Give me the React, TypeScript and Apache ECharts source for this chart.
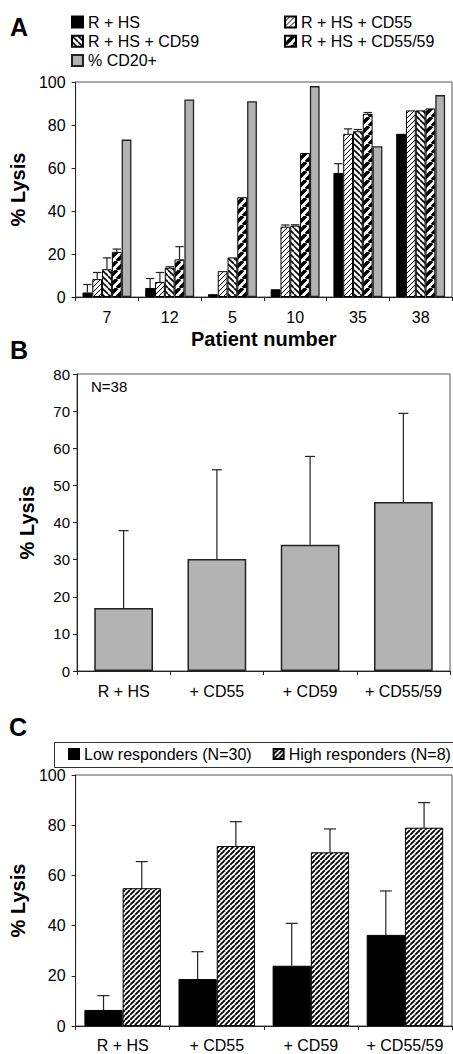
import React, { useEffect, useRef } from "react";
import * as echarts from "echarts";

// ---------- Panel A data ----------
const patientsA = ["7", "12", "5", "10", "35", "38"];
const rhsA = [2.1, 4.2, 1.3, 3.6, 57.7, 75.9];
const rhsErrA = [3.7, 4.4, 0, 0, 4.3, 0];
const cd55A = [8.3, 7.0, 12.0, 32.7, 75.9, 86.8];
const cd55ErrA = [3.1, 4.4, 0, 0.8, 2.3, 0];
const cd59A = [12.9, 13.6, 18.4, 33.2, 77.1, 86.8];
const cd59ErrA = [5.3, 0.5, 0, 0.4, 0.8, 0];
const cd5559A = [21.0, 17.5, 46.4, 67.0, 85.2, 87.7];
const cd5559ErrA = [1.3, 5.9, 0, 0, 0.6, 0];
const cd20A = [73.2, 91.9, 91.1, 98.1, 70.1, 93.9];
const yTicksA = [0, 20, 40, 60, 80, 100];

// ---------- Panel B data ----------
const condB = ["R + HS", "+ CD55", "+ CD59", "+ CD55/59"];
const lysisB = [17.0, 30.2, 34.0, 45.5];
const sdB = [20.8, 24.0, 23.8, 23.9];
const yTicksB = [0, 10, 20, 30, 40, 50, 60, 70, 80];

// ---------- Panel C data ----------
const condC = ["R + HS", "+ CD55", "+ CD59", "+ CD55/59"];
const lowC = [6.4, 18.7, 24.0, 36.3];
const lowErrC = [5.7, 10.9, 16.9, 17.5];
const highC = [54.9, 71.7, 69.2, 79.0];
const highErrC = [10.6, 9.7, 9.3, 10.0];
const yTicksC = [0, 20, 40, 60, 80, 100];

const FONT = "'Liberation Sans', Arial, Helvetica, sans-serif";

function makeHatch(size: number, lineWidth: number, dir: 1 | -1) {
  const c = document.createElement("canvas");
  c.width = size;
  c.height = size;
  const ctx = c.getContext("2d")!;
  ctx.fillStyle = "#fff";
  ctx.fillRect(0, 0, size, size);
  ctx.strokeStyle = "#000";
  ctx.lineWidth = lineWidth;
  ctx.beginPath();
  for (const o of [-size, 0, size]) {
    if (dir === 1) {
      ctx.moveTo(o, size);
      ctx.lineTo(o + size, 0);
    } else {
      ctx.moveTo(o, 0);
      ctx.lineTo(o + size, size);
    }
  }
  ctx.stroke();
  return { image: c, repeat: "repeat" } as any;
}

function errorSeries(
  name: string,
  xAxisIndex: number,
  yAxisIndex: number,
  vals: number[],
  errs: number[],
  barIndex: number,
  nBars: number,
  catGap: number,
  capW: number
) {
  return {
    type: "custom",
    name,
    xAxisIndex,
    yAxisIndex,
    z: 10,
    silent: true,
    encode: { x: 0, y: 1 },
    data: vals.map((v, i) => [i, v, errs[i]]),
    renderItem: (params: any, api: any) => {
      const idx = api.value(0);
      const v = api.value(1);
      const e = api.value(2);
      if (!e || e <= 0) return null;
      const band = api.size([1, 0])[0];
      const barW = (band * (1 - catGap)) / nBars;
      const p0 = api.coord([idx, v]);
      const p1 = api.coord([idx, v + e]);
      const x = p0[0] + (barIndex - (nBars - 1) / 2) * barW;
      const cw = capW > 0 ? capW : barW * 0.85;
      const st = { stroke: "#222", lineWidth: 1.2 };
      return {
        type: "group",
        children: [
          { type: "line", shape: { x1: x, y1: p0[1], x2: x, y2: p1[1] }, style: st },
          { type: "line", shape: { x1: x - cw / 2, y1: p1[1], x2: x + cw / 2, y2: p1[1] }, style: st },
        ],
      };
    },
  };
}

export default function App() {
  const ref = useRef<HTMLDivElement>(null);
  useEffect(() => {
    if (!ref.current) return;
    const chart = echarts.init(ref.current, null, { renderer: "svg" });

    const pCD55 = makeHatch(5, 1.0, 1);
    const pCD59 = makeHatch(6, 1.6, -1);
    const pCD5559 = makeHatch(9, 3.5, 1);
    const pHigh = makeHatch(5, 1.8, 1);

    const axisLine = { show: true, lineStyle: { color: "#222", width: 1 } };
    const axisTick = { show: true, length: 4, lineStyle: { color: "#222" } };
    const labelBase = { color: "#000", fontFamily: FONT };
    const nameStyle = { color: "#000", fontFamily: FONT, fontWeight: "bold", fontSize: 20 } as any;

    const gapA = 0.22;
    const gapC = 0.187;

    const barA = (name: string, data: number[], color: any, border: string, bw: number) => ({
      type: "bar",
      name,
      xAxisIndex: 0,
      yAxisIndex: 0,
      data,
      barGap: "0%",
      barCategoryGap: gapA * 100 + "%",
      itemStyle: { color, borderColor: border, borderWidth: bw },
    });

    const legendText = { ...labelBase, fontSize: 16, lineHeight: 16 };

    const option: any = {
      animation: false,
      backgroundColor: "#fff",
      textStyle: { fontFamily: FONT },
      grid: [
        { left: 68, top: 82, width: 384, height: 215, show: true, borderColor: "#555", borderWidth: 1, backgroundColor: "transparent" },
        { left: 77, top: 374, width: 373, height: 297, show: true, borderColor: "#555", borderWidth: 1, backgroundColor: "transparent" },
        { left: 73, top: 775, width: 379, height: 251, show: true, borderColor: "#555", borderWidth: 1, backgroundColor: "transparent" },
      ],
      legend: [
        {
          left: 71,
          top: 14,
          orient: "vertical",
          padding: 0,
          icon: "rect",
          itemWidth: 11,
          itemHeight: 11,
          itemGap: 3.3,
          data: ["R + HS", "R + HS + CD59", "% CD20+"],
          textStyle: legendText,
        },
        {
          left: 284,
          top: 14,
          orient: "vertical",
          padding: 0,
          icon: "rect",
          itemWidth: 11,
          itemHeight: 11,
          itemGap: 3.3,
          data: ["R + HS + CD55", "R + HS + CD55/59"],
          textStyle: legendText,
        },
        {
          left: 68,
          top: 746,
          orient: "horizontal",
          padding: 0,
          width: 400,
          icon: "rect",
          itemWidth: 10,
          itemHeight: 10,
          itemGap: 21,
          data: ["Low responders (N=30)", "High responders (N=8)"],
          textStyle: legendText,
        },
      ],
      xAxis: [
        {
          type: "category",
          gridIndex: 0,
          data: patientsA,
          axisLine,
          axisTick,
          axisLabel: { ...labelBase, fontSize: 16, margin: 12, interval: 0 },
          name: "Patient number",
          nameLocation: "middle",
          nameGap: 32,
          nameTextStyle: nameStyle,
        },
        {
          type: "category",
          gridIndex: 1,
          data: condB,
          axisLine,
          axisTick,
          axisLabel: { ...labelBase, fontSize: 16, margin: 12, interval: 0 },
        },
        {
          type: "category",
          gridIndex: 2,
          data: condC,
          axisLine,
          axisTick,
          axisLabel: { ...labelBase, fontSize: 16, margin: 11, interval: 0 },
        },
      ],
      yAxis: [
        {
          type: "value",
          gridIndex: 0,
          min: yTicksA[0],
          max: yTicksA[yTicksA.length - 1],
          interval: yTicksA[1] - yTicksA[0],
          axisLine,
          axisTick,
          splitLine: { show: false },
          axisLabel: { ...labelBase, fontSize: 16, margin: 10 },
          name: "% Lysis",
          nameLocation: "middle",
          nameGap: 35,
          nameTextStyle: nameStyle,
        },
        {
          type: "value",
          gridIndex: 1,
          min: yTicksB[0],
          max: yTicksB[yTicksB.length - 1],
          interval: yTicksB[1] - yTicksB[0],
          axisLine,
          axisTick,
          splitLine: { show: false },
          axisLabel: { ...labelBase, fontSize: 15, margin: 7 },
          name: "% Lysis",
          nameLocation: "middle",
          nameGap: 40,
          nameTextStyle: nameStyle,
        },
        {
          type: "value",
          gridIndex: 2,
          min: yTicksC[0],
          max: yTicksC[yTicksC.length - 1],
          interval: yTicksC[1] - yTicksC[0],
          axisLine,
          axisTick,
          splitLine: { show: false },
          axisLabel: { ...labelBase, fontSize: 16, margin: 10 },
          name: "% Lysis",
          nameLocation: "middle",
          nameGap: 45,
          nameTextStyle: nameStyle,
        },
      ],
      series: [
        barA("R + HS", rhsA, "#000", "#000", 1),
        barA("R + HS + CD55", cd55A, pCD55, "#000", 1),
        barA("R + HS + CD59", cd59A, pCD59, "#000", 1),
        barA("R + HS + CD55/59", cd5559A, pCD5559, "#000", 1),
        barA("% CD20+", cd20A, "#b2b2b2", "#222", 1.3),
        errorSeries("eA0", 0, 0, rhsA, rhsErrA, 0, 5, gapA, 0),
        errorSeries("eA1", 0, 0, cd55A, cd55ErrA, 1, 5, gapA, 0),
        errorSeries("eA2", 0, 0, cd59A, cd59ErrA, 2, 5, gapA, 0),
        errorSeries("eA3", 0, 0, cd5559A, cd5559ErrA, 3, 5, gapA, 0),
        {
          type: "bar",
          name: "B",
          xAxisIndex: 1,
          yAxisIndex: 1,
          data: lysisB,
          barCategoryGap: "37%",
          itemStyle: { color: "#b3b3b3", borderColor: "#222", borderWidth: 1.5 },
        },
        errorSeries("eB", 1, 1, lysisB, sdB, 0, 1, 0.37, 10),
        {
          type: "bar",
          name: "Low responders (N=30)",
          xAxisIndex: 2,
          yAxisIndex: 2,
          data: lowC,
          barGap: "0%",
          barCategoryGap: gapC * 100 + "%",
          itemStyle: { color: "#000", borderColor: "#000", borderWidth: 1 },
        },
        {
          type: "bar",
          name: "High responders (N=8)",
          xAxisIndex: 2,
          yAxisIndex: 2,
          data: highC,
          barGap: "0%",
          barCategoryGap: gapC * 100 + "%",
          itemStyle: { color: pHigh, borderColor: "#000", borderWidth: 1 },
        },
        errorSeries("eC0", 2, 2, lowC, lowErrC, 0, 2, gapC, 12),
        errorSeries("eC1", 2, 2, highC, highErrC, 1, 2, gapC, 12),
      ],
      graphic: [
        { type: "text", x: 10, y: 27, style: { text: "A", fontSize: 25, fontWeight: "bold", fontFamily: FONT, fill: "#000", align: "left", verticalAlign: "middle" } },
        { type: "text", x: 10, y: 350, style: { text: "B", fontSize: 25, fontWeight: "bold", fontFamily: FONT, fill: "#000", align: "left", verticalAlign: "middle" } },
        { type: "text", x: 9, y: 727, style: { text: "C", fontSize: 25, fontWeight: "bold", fontFamily: FONT, fill: "#000", align: "left", verticalAlign: "middle" } },
        { type: "text", x: 91, y: 386, style: { text: "N=38", fontSize: 15, fontFamily: FONT, fill: "#000", align: "left", verticalAlign: "middle" } },
        { type: "rect", shape: { x: 54.5, y: 742.5, width: 410, height: 25 }, style: { fill: "none", stroke: "#333", lineWidth: 1 }, z: 0 },
      ],
    };
    chart.setOption(option);
    return () => chart.dispose();
  }, []);
  return (
    <div
      ref={ref}
      style={{ position: "absolute", left: 0, top: 0, width: 453, height: 1054, background: "#fff" }}
    />
  );
}
